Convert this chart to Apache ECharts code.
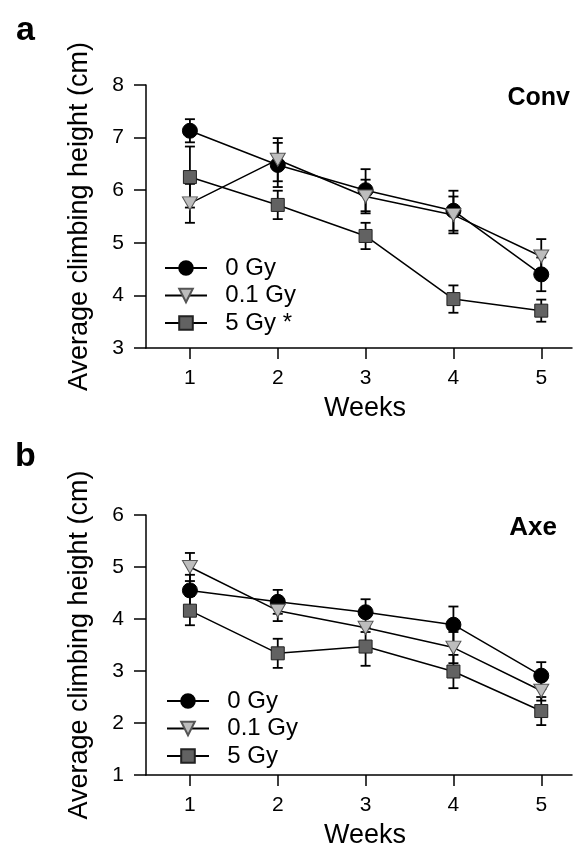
<!DOCTYPE html>
<html>
<head>
<meta charset="utf-8">
<script src="https://cdn.jsdelivr.net/npm/echarts@6/dist/echarts.min.js"></script>
<style>
    html, body { margin: 0; padding: 0; background: #fff; }
    #chart { width: 577px; height: 850px; }
</style>
</head>
<body>
<div id="chart"></div>
<script>
// weeks on the x axis
const weeks = [1, 2, 3, 4, 5];
const week_ticks = [1, 2, 3, 4, 5];

// panel a, Conv: means and error bars
const conv_0 = [7.13, 6.48, 6.00, 5.61, 4.40];
const conv_0_err = [0.22, 0.42, 0.40, 0.38, 0.32];
const conv_01 = [5.75, 6.58, 5.88, 5.53, 4.74];
const conv_01_err = [0.37, 0.41, 0.32, 0.35, 0.33];
const conv_5 = [6.25, 5.72, 5.13, 3.93, 3.71];
const conv_5_err = [0.58, 0.27, 0.25, 0.26, 0.21];

// panel b, Axe
const axe_0 = [4.55, 4.33, 4.13, 3.89, 2.91];
const axe_0_err = [0.30, 0.23, 0.25, 0.35, 0.26];
const axe_01 = [5.00, 4.16, 3.83, 3.45, 2.62];
const axe_01_err = [0.27, 0.20, 0.08, 0.30, 0.19];
const axe_5 = [4.16, 3.34, 3.47, 2.99, 2.23];
const axe_5_err = [0.28, 0.28, 0.37, 0.32, 0.27];

const names_a = ["0 Gy", "0.1 Gy", "5 Gy *"];
const names_b = ["0 Gy", "0.1 Gy", "5 Gy"];

const FONT = "Liberation Sans, Arial, sans-serif";
const TRI_DOWN = "path://M0,0L10,0L5,9Z";

// marker look per dose
const STYLES = [
    { symbol: "circle", size: 15, fill: "#000", border: "#000" },
    { symbol: TRI_DOWN, size: [15, 13], fill: "#bdbdbd", border: "#555" },
    { symbol: "rect", size: 13, fill: "#626262", border: "#222" },
];

function render_err(params, api) {
    const x = api.value(0);
    const m = api.value(1);
    const e = api.value(2);
    const top = api.coord([x, m + e]);
    const bot = api.coord([x, m - e]);
    const hw = 5;
    const st = { stroke: "#000", lineWidth: 1.8 };
    return {
        type: "group",
        children: [
            { type: "line", shape: { x1: top[0], y1: top[1], x2: bot[0], y2: bot[1] }, style: st },
            { type: "line", shape: { x1: top[0] - hw, y1: top[1], x2: top[0] + hw, y2: top[1] }, style: st },
            { type: "line", shape: { x1: bot[0] - hw, y1: bot[1], x2: bot[0] + hw, y2: bot[1] }, style: st },
        ],
    };
}

function panel_series(idx, names, means, errs) {
    const out = [];
    means.forEach((m, k) => {
        out.push({
            type: "custom",
            xAxisIndex: idx,
            yAxisIndex: idx,
            renderItem: render_err,
            encode: { x: 0, y: 1 },
            data: weeks.map((w, i) => [w, m[i], errs[k][i]]),
            z: 2,
            silent: true,
        });
    });
    means.forEach((m, k) => {
        const s = STYLES[k];
        out.push({
            type: "line",
            name: names[k],
            xAxisIndex: idx,
            yAxisIndex: idx,
            data: weeks.map((w, i) => [w, m[i]]),
            symbol: s.symbol,
            symbolSize: s.size,
            showAllSymbol: true,
            lineStyle: { color: "#000", width: 1.5 },
            itemStyle: { color: s.fill, borderColor: s.border, borderWidth: 1 },
            z: 3 + k,
            animation: false,
        });
    });
    return out;
}

function x_axis(idx) {
    return {
        type: "value",
        gridIndex: idx,
        min: 0.5,
        max: 5.35,
        name: "Weeks",
        nameLocation: "middle",
        nameGap: 47,
        nameTextStyle: { fontFamily: FONT, fontSize: 27, color: "#000", padding: [0, 0, 0, 12] },
        axisLine: { lineStyle: { color: "#000", width: 1.5 } },
        axisTick: { customValues: week_ticks, length: 11, lineStyle: { color: "#000", width: 1.5 } },
        axisLabel: { customValues: week_ticks, fontFamily: FONT, fontSize: 21, color: "#000", margin: 20 },
        splitLine: { show: false },
    };
}

function y_axis(idx, lo, hi) {
    return {
        type: "value",
        gridIndex: idx,
        min: lo,
        max: hi,
        interval: 1,
        name: "Average climbing height (cm)",
        nameLocation: "middle",
        nameGap: 53,
        nameTextStyle: { fontFamily: FONT, fontSize: 27, color: "#000" },
        axisLine: { show: true, lineStyle: { color: "#000", width: 1.5 } },
        axisTick: { show: true, length: 12, lineStyle: { color: "#000", width: 1.5 } },
        axisLabel: { fontFamily: FONT, fontSize: 21, color: "#000", margin: 22 },
        splitLine: { show: false },
    };
}

function legend_at(left, top, names) {
    return {
        orient: "vertical",
        left: left,
        top: top,
        padding: 0,
        data: names,
        itemWidth: 42,
        itemHeight: 17,
        itemGap: 3.5,
        selectedMode: false,
        formatter: (n) => "  " + n,
        textStyle: { fontFamily: FONT, fontSize: 24, color: "#000" },
    };
}

const chart = echarts.init(document.getElementById("chart"), null, { renderer: "canvas" });

chart.setOption({
    animation: false,
    backgroundColor: "#fff",
    grid: [
        { left: 146, top: 85, width: 426, height: 263 },
        { left: 146, top: 515, width: 426, height: 263 },
    ],
    xAxis: [x_axis(0), x_axis(1)],
    yAxis: [y_axis(0, 3, 8), y_axis(1, 1, 6)],
    legend: [legend_at(164, 256, names_a), legend_at(166, 689, names_b)],
    graphic: [
        { type: "text", left: 16, top: 14, style: { text: "a", font: "bold 34px " + FONT, fill: "#000" } },
        { type: "text", left: 15, top: 440, style: { text: "b", font: "bold 34px " + FONT, fill: "#000" } },
        { type: "text", right: 7, top: 86, style: { text: "Conv", font: "bold 25px " + FONT, fill: "#000" } },
        { type: "text", right: 20, top: 515, style: { text: "Axe", font: "bold 26px " + FONT, fill: "#000" } },
    ],
    series: [
        ...panel_series(0, names_a, [conv_0, conv_01, conv_5], [conv_0_err, conv_01_err, conv_5_err]),
        ...panel_series(1, names_b, [axe_0, axe_01, axe_5], [axe_0_err, axe_01_err, axe_5_err]),
    ],
});
</script>
</body>
</html>
